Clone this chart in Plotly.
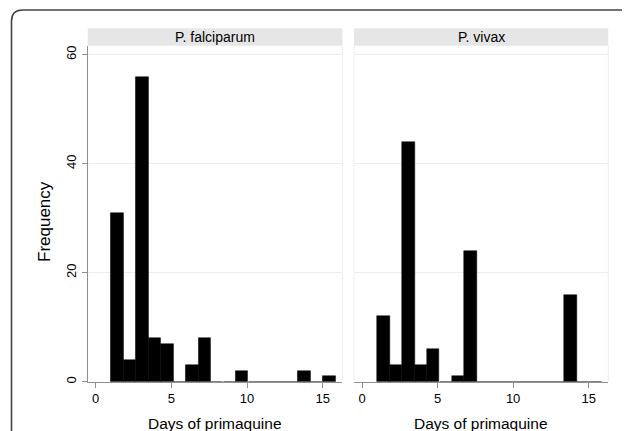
import plotly.graph_objects as go

# ---- data ----
panels = ["P. falciparum", "P. vivax"]
bin_left = [1.00, 1.83, 2.65, 3.48, 4.30, 5.13, 5.95, 6.78, 7.60,
            8.43, 9.25, 10.08, 10.90, 11.73, 12.55, 13.38, 14.20, 15.03]
bin_width = 0.825
falciparum_counts = [31, 4, 56, 8, 7, 0, 3, 8, 0, 0, 2, 0, 0, 0, 0, 2, 0, 1]
vivax_counts = [12, 3, 44, 3, 6, 0, 1, 24, 0, 0, 0, 0, 0, 0, 0, 16, 0, 0]
x_ticks = [0, 5, 10, 15]
y_ticks = [0, 20, 40, 60]
x_title = "Days of primaquine"
y_title = "Frequency"

W, H = 630, 431
OFF = 8  # page body margin in the browser


def px(x):
    return (x - OFF) / W


def py(y):
    return 1 - (y - OFF) / H


FONT = "Liberation Sans, Arial, sans-serif"
AXIS_COL = "#8f8f8f"
GRID_COL = "#ececec"

left_dom = [px(87.7), px(342.3)]
right_dom = [px(354.0), px(608.3)]
y_dom = [py(381.7), py(46.0)]
x_range = [-0.53, 16.3]
y_range = [0, 61.6]

fig = go.Figure()
for i, counts in enumerate([falciparum_counts, vivax_counts]):
    fig.add_trace(go.Bar(
        x=bin_left, y=counts, width=bin_width, offset=0,
        marker=dict(color="black", line=dict(color="black", width=0.5)),
        xaxis="x" if i == 0 else "x2", yaxis="y" if i == 0 else "y2",
        showlegend=False, hoverinfo="x+y",
    ))

xcommon = dict(range=x_range, tickvals=x_ticks, ticks="outside", ticklen=5,
               tickcolor=AXIS_COL, showline=True, linecolor=AXIS_COL, linewidth=1.3,
               showgrid=False, zeroline=False,
               tickfont=dict(family=FONT, size=13, color="black"))
ycommon = dict(range=y_range, tickvals=y_ticks, domain=y_dom, showgrid=True,
               gridcolor=GRID_COL, gridwidth=1, zeroline=False)

fig.update_layout(
    width=W, height=H,
    margin=dict(l=0, r=0, t=0, b=0, autoexpand=False),
    paper_bgcolor="white", plot_bgcolor="white",
    bargap=0,
    xaxis=dict(domain=left_dom, anchor="y", **xcommon),
    xaxis2=dict(domain=right_dom, anchor="y2", **xcommon),
    yaxis=dict(anchor="x", ticks="outside", ticklen=5, tickcolor=AXIS_COL,
               showline=True, linecolor=AXIS_COL, linewidth=1.3, tickangle=-90,
               tickfont=dict(family=FONT, size=13, color="black"), **ycommon),
    yaxis2=dict(anchor="x2", showticklabels=False, ticks="", showline=False,
                **ycommon),
)

shapes = []
annotations = []
for dom, name in zip([left_dom, right_dom], panels):
    # strip
    shapes.append(dict(type="rect", xref="paper", yref="paper",
                       x0=dom[0], x1=dom[1], y0=py(45.7), y1=py(28.3),
                       fillcolor="#e6e6e6", line=dict(width=0), layer="below"))
    # light panel frame sides
    for xv in dom:
        shapes.append(dict(type="line", xref="paper", yref="paper",
                           x0=xv, x1=xv, y0=y_dom[0], y1=y_dom[1],
                           line=dict(color=GRID_COL, width=1), layer="below"))
    annotations.append(dict(text=name, xref="paper", yref="paper",
                            x=(dom[0] + dom[1]) / 2, y=py(37.0),
                            xanchor="center", yanchor="middle", showarrow=False,
                            font=dict(family=FONT, size=14, color="black")))
    annotations.append(dict(text=x_title, xref="paper", yref="paper",
                            x=(dom[0] + dom[1]) / 2, y=py(423.0),
                            xanchor="center", yanchor="middle", showarrow=False,
                            font=dict(family=FONT, size=15.5, color="black")))

annotations.append(dict(text=y_title, xref="paper", yref="paper",
                        x=px(45), y=py(222), textangle=-90,
                        xanchor="center", yanchor="middle", showarrow=False,
                        font=dict(family=FONT, size=17, color="black")))

# outer rounded border (extends beyond the visible area at right and bottom)
L, T, R, B, r = 11.5, 10.0, 636.0, 460.0, 11.0
path = (f"M {px(L)} {py(B)} L {px(L)} {py(T + r)} "
        f"Q {px(L)} {py(T)} {px(L + r)} {py(T)} "
        f"L {px(R - r)} {py(T)} Q {px(R)} {py(T)} {px(R)} {py(T + r)} "
        f"L {px(R)} {py(B)}")
shapes.append(dict(type="path", xref="paper", yref="paper", path=path,
                   line=dict(color="#444444", width=1.6)))

fig.update_layout(shapes=shapes, annotations=annotations)

fig.write_html("out.html")
